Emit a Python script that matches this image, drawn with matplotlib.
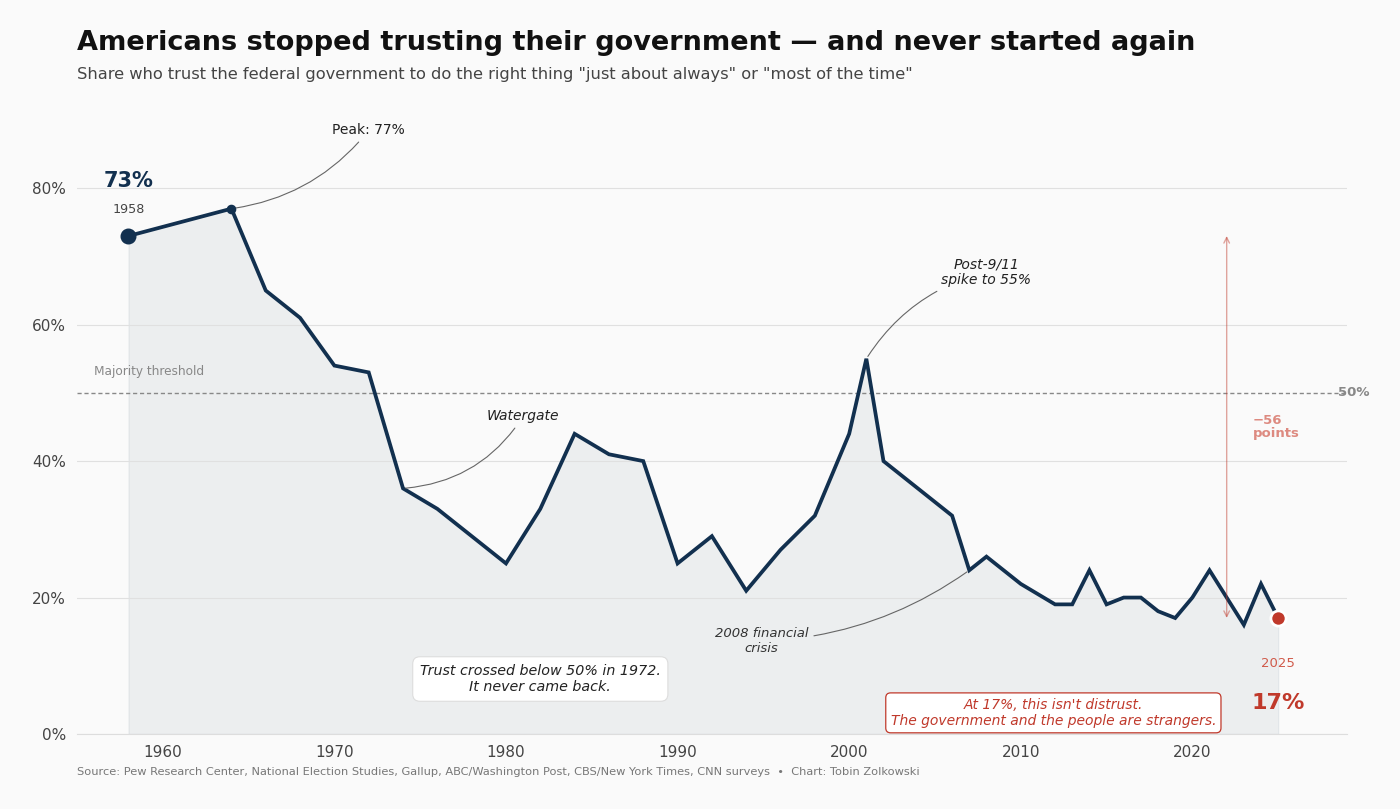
import matplotlib
matplotlib.use("Agg")
import matplotlib.pyplot as plt

# survey years and share trusting govt (%)
years = [1958, 1964, 1966, 1968, 1970, 1972, 1974, 1976, 1978, 1980, 1982, 1984,
         1986, 1988, 1990, 1992, 1994, 1996, 1998, 2000, 2001, 2002, 2004, 2006,
         2007, 2008, 2010, 2012, 2013, 2014, 2015, 2016, 2017, 2018, 2019, 2020,
         2021, 2023, 2024, 2025]
trust = [73, 77, 65, 61, 54, 53, 36, 33, 29, 25, 33, 44,
         41, 40, 25, 29, 21, 27, 32, 44, 55, 40, 36, 32,
         24, 26, 22, 19, 19, 24, 19, 20, 20, 18, 17, 20,
         24, 16, 22, 17]
yticks = [0, 20, 40, 60, 80]
xticks = [1960, 1970, 1980, 1990, 2000, 2010, 2020]

NAVY = "#12304f"
RED = "#c0392b"
BG = "#fafafa"

fig = plt.figure(figsize=(14, 8.09), dpi=100, facecolor=BG)
ax = fig.add_axes([0.055, 0.0927, 0.907, 0.759])
ax.set_facecolor(BG)

ax.fill_between(years, trust, 0, color=NAVY, alpha=0.06, lw=1, zorder=1)
ax.plot(years, trust, color=NAVY, lw=2.7, zorder=3, solid_joinstyle="miter")

# majority line
ax.axhline(50, color="#888888", lw=1, ls=(0, (3, 2)), zorder=2)
ax.text(1956, 52.2, "Majority threshold", fontsize=8.7, color="#888888", ha="left", va="bottom")
ax.text(2028.5, 50, "50%", fontsize=9.5, color="#888888", fontweight="bold", ha="left", va="center")

# start point
ax.scatter([years[0]], [trust[0]], s=110, color=NAVY, zorder=4)
ax.text(years[0], 81, "73%", fontsize=15, fontweight="bold", color=NAVY, ha="center", va="center")
ax.text(years[0], 76.9, "1958", fontsize=9.2, color="#444444", ha="center", va="center")

# peak
ax.scatter([1964], [77], s=35, color=NAVY, zorder=4)
arrow = dict(arrowstyle="-", color="#666666", lw=0.8, shrinkA=2, shrinkB=2)
ax.annotate("Peak: 77%", xy=(1964, 77), xytext=(1972, 88.5), fontsize=10, color="#222222",
            ha="center", va="center",
            arrowprops=dict(arrow, connectionstyle="arc3,rad=-0.2"))

ax.annotate("Watergate", xy=(1974, 36), xytext=(1981, 46.6), fontsize=10, style="italic",
            color="#222222", ha="center", va="center",
            arrowprops=dict(arrow, connectionstyle="arc3,rad=-0.25"))

ax.annotate("Post-9/11\nspike to 55%", xy=(2001, 55), xytext=(2008, 67.7), fontsize=10,
            style="italic", color="#222222", ha="center", va="center",
            arrowprops=dict(arrow, connectionstyle="arc3,rad=0.2"))

ax.annotate("2008 financial\ncrisis", xy=(2007, 24), xytext=(1994.9, 13.6), fontsize=9.5,
            style="italic", color="#333333", ha="center", va="center",
            arrowprops=dict(arrow, connectionstyle="arc3,rad=0.15"))

ax.text(1982, 8.06, "Trust crossed below 50% in 1972.\nIt never came back.", fontsize=10.3,
        style="italic", color="#222222", ha="center", va="center", zorder=5,
        bbox=dict(boxstyle="round,pad=0.5", fc="white", ec="#dddddd", lw=0.8))

ax.text(2011.9, 3.1, "At 17%, this isn't distrust.\nThe government and the people are strangers.",
        fontsize=10, style="italic", color=RED, ha="center", va="center", zorder=5,
        bbox=dict(boxstyle="round,pad=0.35", fc="white", ec=RED, lw=0.9))

# end point
ax.scatter([years[-1]], [trust[-1]], s=120, color=RED, edgecolor="white", linewidth=2, zorder=5)
ax.text(2025, 10.3, "2025", fontsize=9.5, color="#d05a4a", ha="center", va="center")
ax.text(2025, 4.5, "17%", fontsize=16, fontweight="bold", color=RED, ha="center", va="center")

# drop arrow
ax.annotate("", xy=(2022, 17), xytext=(2022, 73),
            arrowprops=dict(arrowstyle="<->", color=RED, alpha=0.45, lw=1, shrinkA=0, shrinkB=0))
ax.text(2023.5, 45, "\u221256\npoints", fontsize=9.5, fontweight="bold", color="#dd8a80",
        ha="left", va="center", linespacing=1.0)

ax.set_xlim(1955, 2029)
ax.set_ylim(0, 90)
ax.set_yticks(yticks)
ax.set_yticklabels([f"{v}%" for v in yticks])
ax.set_xticks(xticks)
ax.tick_params(length=0, labelsize=11, colors="#444444", pad=8)
ax.grid(axis="y", color="#e0e0e0", lw=0.8, zorder=0)
for s in ["top", "right", "left"]:
    ax.spines[s].set_visible(False)
ax.spines["bottom"].set_color("#dddddd")

fig.text(0.055, 0.947, "Americans stopped trusting their government \u2014 and never started again",
         fontsize=19.5, fontweight="bold", color="#111111", ha="left", va="center")
fig.text(0.055, 0.9085, "Share who trust the federal government to do the right thing \"just about always\" or \"most of the time\"",
         fontsize=11.7, color="#444444", ha="left", va="center")
fig.text(0.055, 0.0457, "Source: Pew Research Center, National Election Studies, Gallup, ABC/Washington Post, CBS/New York Times, CNN surveys  \u2022  Chart: Tobin Zolkowski",
         fontsize=8.2, color="#777777", ha="left", va="center")

fig.savefig("out.png", dpi=100, facecolor=BG)
